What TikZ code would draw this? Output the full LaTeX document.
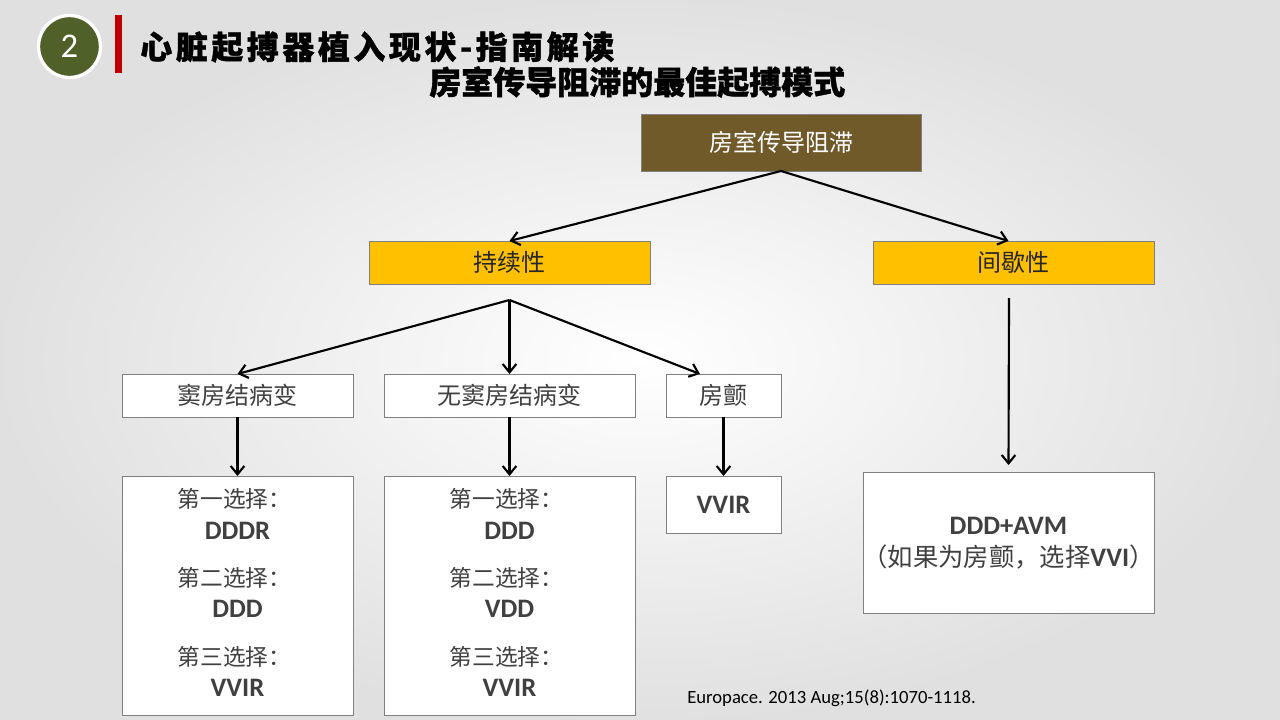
\documentclass[tikz,border=0pt]{standalone}
\usepackage{fontspec}
\setmainfont{Carlito}
\newfontfamily\cjk{Noto Sans CJK SC}
\usetikzlibrary{arrows.meta}
\definecolor{olivebadge}{RGB}{79,97,40}
\definecolor{barred}{RGB}{192,0,0}
\definecolor{rootbrown}{RGB}{112,90,42}
\definecolor{amber}{RGB}{255,192,0}
\definecolor{boxline}{RGB}{128,128,128}
\definecolor{txtgray}{RGB}{64,64,64}

\begin{document}
\begin{tikzpicture}[x=0.75pt,y=-0.75pt,
	box/.style={draw=boxline,inner sep=0pt,outer sep=0pt,minimum height=32.25pt,font=\cjk\fontsize{18}{20}\selectfont,text=txtgray},
	rootbox/.style={box,fill=rootbrown,text=white,minimum height=42.75pt},
	typebox/.style={box,fill=amber,text=black!85},
	leafbox/.style={box,fill=white},
	titletxt/.style={anchor=west,inner sep=0pt,font=\cjk\bfseries\fontsize{24}{26}\selectfont\addfontfeature{FakeBold=1.2}},
	choicetxt/.style={inner sep=0pt,font=\cjk\fontsize{17}{19}\selectfont,text=txtgray},
	modetxt/.style={inner sep=0pt,font=\bfseries\fontsize{20}{22}\selectfont,text=txtgray},
	link/.style={line width=1.6pt,-{Straight Barb[length=2.2mm,width=3.6mm]}}]
			% background and header
			\shade[inner color=white,outer color=black!12] (0,0) rectangle (1280,720);
			\useasboundingbox (0,0) rectangle (1280,720);
			\node[circle,fill=olivebadge,draw=white,line width=2.5pt,minimum size=46.5pt,inner sep=0pt,text=white,font=\fontsize{26}{28}\selectfont] (badge) at (69.5,46.5) {2};
			\fill[barred] (115,15) rectangle (122,73);
			\node[titletxt] (title) at (140,47) {\addfontfeature{LetterSpace=11}心脏起搏器植入现状-指南解读};
			\node[titletxt] (subtitle) at (429,82) {房室传导阻滞的最佳起搏模式};
			
			% boxes
			\node[rootbox,minimum width=210pt] (top) at (781,142.5) {房室传导阻滞};
			\node[typebox,minimum width=210.75pt] (sus) at (509.5,262.5) {持续性};
			\node[typebox,minimum width=210.75pt] (inter) at (1013.5,262.5) {间歇性};
			\node[leafbox,minimum width=173.25pt] (sn) at (237.5,395.5) {窦房结病变};
			\node[leafbox,minimum width=188.25pt] (nosn) at (509.5,395.5) {无窦房结病变};
			\node[leafbox,minimum width=86.25pt] (af) at (723.5,395.5) {房颤};
			\node[leafbox,minimum width=173.25pt,minimum height=179.25pt] (ch1) at (237.5,595.5) {};
			\node[leafbox,minimum width=188.25pt,minimum height=179.25pt] (ch2) at (509.5,595.5) {};
			\node[leafbox,minimum width=86.25pt,minimum height=42.75pt,font=\bfseries\fontsize{20}{22}\selectfont] (vvir) at (723.5,504.5) {VVIR};
			\node[leafbox,minimum width=218.25pt,minimum height=105.75pt] (avm) at (1008.5,542.5) {};
			
			% texts inside the boxes
			\foreach \b/\ma/\mb/\mc in {ch1/DDDR/DDD/VVIR,ch2/DDD/VDD/VVIR}{
				\node[choicetxt] (\b-p1) at ([shift={(-3,23)}]\b.north) {第一选择：};
				\node[modetxt] (\b-m1) at ([shift={(0,55)}]\b.north) {\ma};
				\node[choicetxt] (\b-p2) at ([shift={(-3,102)}]\b.north) {第二选择：};
				\node[modetxt] (\b-m2) at ([shift={(0,133)}]\b.north) {\mb};
				\node[choicetxt] (\b-p3) at ([shift={(-3,181)}]\b.north) {第三选择：};
				\node[modetxt] (\b-m3) at ([shift={(0,212)}]\b.north) {\mc};
			}
			\node[modetxt] (avm-m) at ([shift={(0,54)}]avm.north) {DDD+AVM};
			\node[inner sep=0pt,font=\cjk\fontsize{19}{21}\selectfont,text=txtgray] (avm-n) at ([shift={(0,85)}]avm.north) {（如果为房颤，选择{\rmfamily\bfseries\fontsize{20}{22}\selectfont VVI}）};
			
			\node[anchor=west,inner sep=0pt,font=\fontsize{14}{16}\selectfont] (cite) at (687,698) {Europace. 2013 Aug;15(8):1070-1118.};
			
			% arrows
			\coordinate (fork) at ([shift={(0,16)}]sus.south);
			\coordinate (drop) at ([shift={(-4.5,14)}]inter.south);
			\draw[link] (top.south) -- (sus.north);
			\draw[link] (top.south) -- ([shift={(-5,0)}]inter.north);
			\draw[link] (fork) -- (sn.north);
			\draw[link] (fork) -- (nosn.north);
			\draw[link] (fork) -- ([shift={(-23.5,0)}]af.north);
			\draw[link] (drop) -- ([shift={(0,-7)}]avm.north);
			\draw[link] (sn) -- (ch1);
			\draw[link] (nosn) -- (ch2);
			\draw[link] (af) -- (vvir);
\end{tikzpicture}
\end{document}
